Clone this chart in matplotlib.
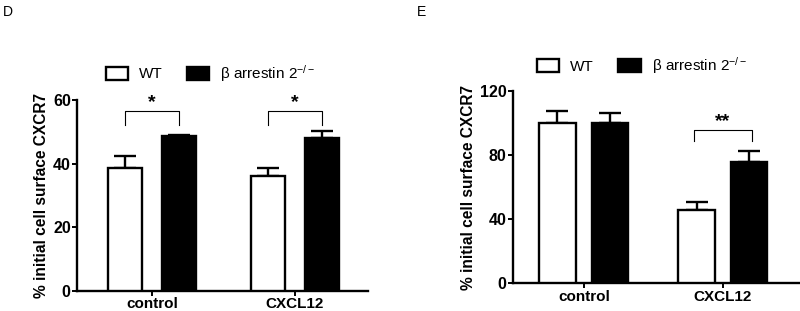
import matplotlib
matplotlib.use("Agg")
import matplotlib.pyplot as plt
from matplotlib.patches import Patch

# --- data ---
groups = ["control", "CXCL12"]
series = ["WT", "β arrestin 2$^{-/-}$"]

d_wt = [38.7, 36.1]
d_wt_err = [3.6, 2.4]
d_ko = [48.7, 48.2]
d_ko_err = [0.2, 2.1]

e_wt = [100.0, 45.9]
e_wt_err = [7.4, 4.7]
e_ko = [100.0, 75.8]
e_ko_err = [6.0, 6.8]

d_yticks = [0, 20, 40, 60]
e_yticks = [0, 40, 80, 120]

plt.rcParams['font.family'] = ['Liberation Sans', 'DejaVu Sans']
plt.rcParams['mathtext.fontset'] = 'custom'
plt.rcParams['mathtext.rm'] = 'Liberation Sans'
plt.rcParams['mathtext.it'] = 'Liberation Sans'

fig = plt.figure(figsize=(8, 3.11), dpi=100)
ax_d = fig.add_axes([0.09625, 0.0643, 0.36375, 0.614])
ax_e = fig.add_axes([0.641, 0.089, 0.359, 0.619])


def draw_panel(ax, wt, wt_err, ko, ko_err, ylim, yticks, xlim, width, off):
    x = range(len(groups))
    xw = [i - off for i in x]
    xk = [i + off for i in x]
    ax.bar(xw, wt, width, color="white", edgecolor="black", linewidth=1.7, zorder=3)
    ax.bar(xk, ko, width, color="black", edgecolor="black", linewidth=1.7, zorder=3)
    ax.errorbar(xw, wt, yerr=[[0] * len(wt), wt_err], fmt="none", ecolor="black",
                elinewidth=1.7, capsize=8, capthick=1.7, zorder=2)
    ax.errorbar(xk, ko, yerr=[[0] * len(ko), ko_err], fmt="none", ecolor="black",
                elinewidth=1.7, capsize=8, capthick=1.7, zorder=2)
    ax.set_ylim(*ylim)
    ax.set_xlim(*xlim)
    ax.set_yticks(yticks)
    ax.set_xticks(list(x))
    ax.set_xticklabels(groups, fontweight="bold", fontsize=11)
    for lab in ax.get_yticklabels():
        lab.set_fontweight("bold")
        lab.set_fontsize(11.5)
    ax.spines["top"].set_visible(False)
    ax.spines["right"].set_visible(False)
    ax.spines["left"].set_linewidth(1.7)
    ax.spines["bottom"].set_linewidth(1.7)
    ax.tick_params(direction="out", length=3.5, width=1.4, pad=1)
    ax.set_ylabel("% initial cell surface CXCR7", fontweight="bold", fontsize=11.2, labelpad=3)
    ax.legend(handles=[Patch(facecolor="white", edgecolor="black", linewidth=1.7),
                       Patch(facecolor="black", edgecolor="black", linewidth=1.7)],
              labels=series, ncol=2, frameon=False, fontsize=11,
              loc="center", bbox_to_anchor=(0.46, 1.14),
              handlelength=1.45, handleheight=0.9, handletextpad=0.72, columnspacing=1.6)
    return xw, xk


def bracket(ax, x0, x1, y_low, y_top, label):
    ax.plot([x0, x0, x1, x1], [y_low, y_top, y_top, y_low], color="black",
            linewidth=0.8, clip_on=False)
    ax.text((x0 + x1) / 2, y_top, label, ha="center", va="bottom",
            fontsize=14, fontweight="bold")


xw, xk = draw_panel(ax_d, d_wt, d_wt_err, d_ko, d_ko_err, (0, 60), d_yticks,
                    (-0.524, 1.511), 0.24, 0.19)
bracket(ax_d, xw[0], xk[0], 52.2, 56.5, "*")
bracket(ax_d, xw[1], xk[1], 52.2, 56.5, "*")

xw, xk = draw_panel(ax_e, e_wt, e_wt_err, e_ko, e_ko_err, (0, 120), e_yticks,
                    (-0.511, 1.554), 0.26, 0.19)
ax_e.legend_.set_bbox_to_anchor((0.45, 1.13))
bracket(ax_e, xw[1] - 0.02, xk[1] + 0.02, 88.7, 95.5, "**")

fig.text(0.004, 0.985, "D", fontsize=10, va="top")
fig.text(0.521, 0.985, "E", fontsize=10, va="top")

fig.savefig("out.png", dpi=100)
